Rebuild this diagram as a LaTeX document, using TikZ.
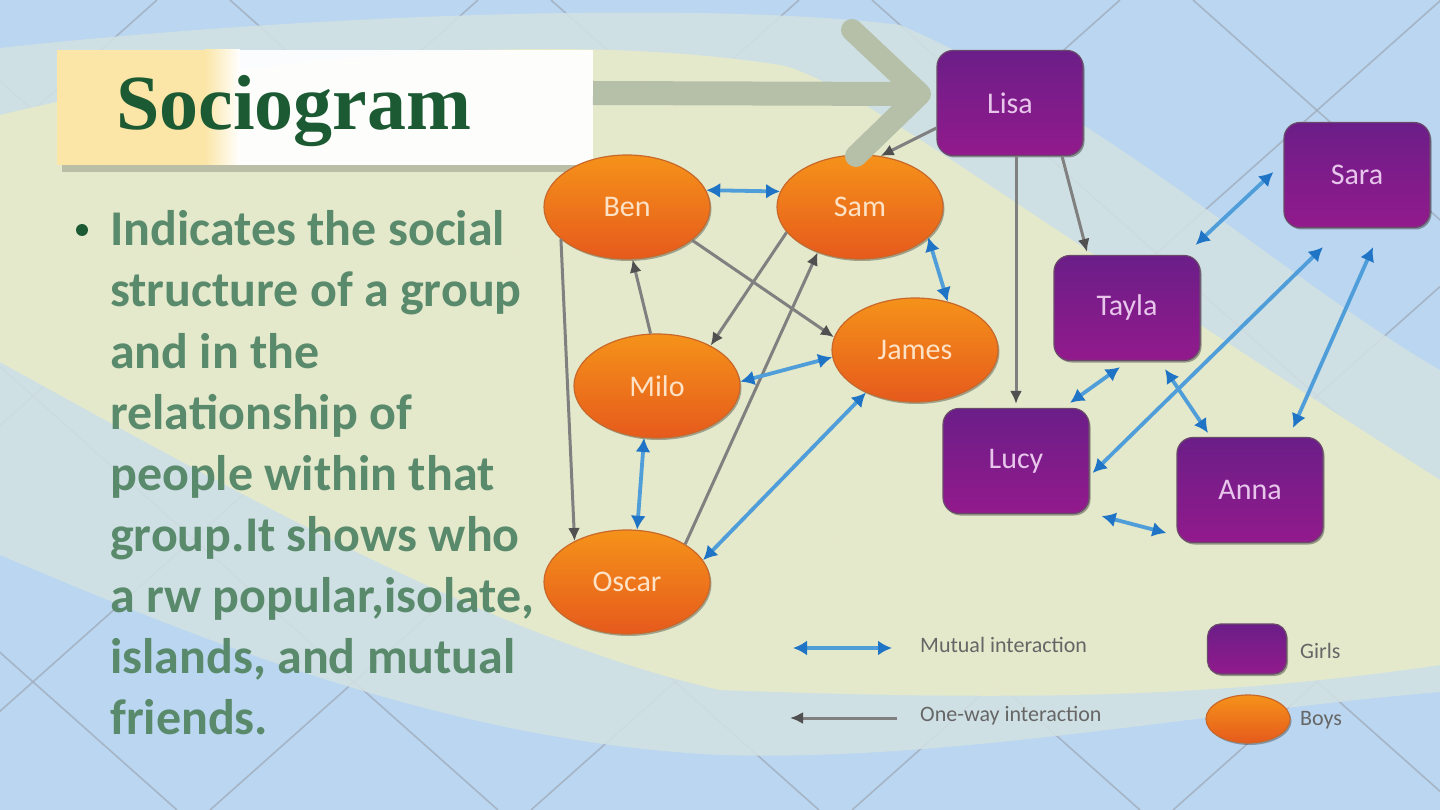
\documentclass[tikz,border=0pt]{standalone}
\usepackage{fontspec}
\setmainfont{Carlito}
\newfontfamily\titlefont{Liberation Serif}
\usetikzlibrary{arrows.meta,shapes.geometric,shadows}
\definecolor{bgblue}{HTML}{BBD6F0}
\definecolor{bandteal}{HTML}{D3E2E3}
\definecolor{bandbeige}{HTML}{E9EBC8}
\definecolor{latt}{HTML}{9FAAB8}
\definecolor{ttlyel}{HTML}{FBE6A8}
\definecolor{ttlgreen}{HTML}{1C5A34}
\definecolor{bodygreen}{HTML}{5A8A6C}
\definecolor{orTop}{HTML}{F5921A}
\definecolor{orBot}{HTML}{E65A1C}
\definecolor{orEdge}{HTML}{C8682A}
\definecolor{puTop}{HTML}{6B1E88}
\definecolor{puBot}{HTML}{921A8C}
\definecolor{puEdge}{HTML}{6A4A6A}
\definecolor{boyText}{HTML}{FDE2C6}
\definecolor{girlText}{HTML}{E8C6EC}
\definecolor{mshaft}{HTML}{4F9EDA}
\definecolor{mtip}{HTML}{1F74C6}
\definecolor{gshaft}{HTML}{808080}
\definecolor{gtip}{HTML}{505050}
\definecolor{sage}{HTML}{B6C0A9}
\definecolor{legtext}{HTML}{666666}
\begin{document}
\begin{tikzpicture}[x=1pt,y=-1pt,
  lattline/.style={draw=latt, line width=1.6pt, opacity=0.75},
  boy/.style={ellipse, minimum width=166pt, minimum height=104pt, inner sep=0pt,
    top color=orTop, bottom color=orBot, draw=orEdge, line width=1.2pt,
    text=boyText, font=\fontsize{30}{30}\selectfont,
    drop shadow={shadow xshift=1.5pt, shadow yshift=-2pt, opacity=0.3, fill=black}},
  girl/.style={rectangle, rounded corners=16pt, minimum width=146pt, minimum height=105pt, inner sep=0pt,
    top color=puTop, bottom color=puBot, draw=puEdge, line width=1.2pt,
    text=girlText, font=\fontsize{30}{30}\selectfont,
    drop shadow={shadow xshift=1.5pt, shadow yshift=-2pt, opacity=0.35, fill=black}},
  mutual/.style={draw=mshaft, line width=3.8pt,
    {Latex[length=14pt,width=15pt,color=mtip]}-{Latex[length=14pt,width=15pt,color=mtip]}},
  oneway/.style={draw=gshaft, line width=3pt, -{Latex[length=13pt,width=12pt,color=gtip]}},
  bodyline/.style={anchor=base west, text=bodygreen, font=\bfseries\fontsize{50}{50}\selectfont, inner sep=0pt},
  legtxt/.style={anchor=west, text=legtext, font=\fontsize{22}{22}\selectfont, inner sep=0pt}
]
\useasboundingbox (0,0) rectangle (1440,810);
\clip (0,0) rectangle (1440,810);
% background
\fill[bgblue] (0,0) rectangle (1440,810);
\foreach \c in {1193,872,551,230,-91,-412,-733} \draw[lattline] (\c,0) -- ({\c+910},810);
\foreach \c in {157,478,799,1120,1441,1762,2083} \draw[lattline] (\c,0) -- ({\c-910},810);
\fill[bandteal, opacity=0.85] (0,48) .. controls (300,15) and (700,0) .. (900,25)
  .. controls (1100,110) and (1300,290) .. (1440,370) -- (1440,692)
  .. controls (1200,712) and (950,762) .. (720,755)
  .. controls (450,742) and (200,640) .. (0,555) -- cycle;
\fill[bandbeige, opacity=0.88] (0,115) .. controls (250,55) and (550,30) .. (780,65)
  .. controls (850,80) and (1000,200) .. (1440,480) -- (1440,665)
  .. controls (1200,700) and (1000,700) .. (720,690)
  .. controls (500,640) and (250,500) .. (0,362) -- cycle;

% title box
\fill[black, opacity=0.18] (62,165) rectangle (598,172);
\fill[white, opacity=0.93] (57,50) rectangle (593,165);
\fill[ttlyel] (57,50) rectangle (205,165);
\shade[left color=ttlyel, right color=white] (205,50) rectangle (240,165);
\node[anchor=base west, inner sep=0pt, text=ttlgreen, font=\titlefont\bfseries\fontsize{78}{78}\selectfont] (title) at (116,130) {Sociogram};

% bullet text
\fill[ttlgreen] (82,230) circle (6pt);
\node[bodyline] (l1) at (110,246) {Indicates the social};
\node[bodyline] (l2) at (110,307) {structure of a group};
\node[bodyline] (l3) at (110,368) {and in the};
\node[bodyline] (l4) at (110,429) {relationship of};
\node[bodyline] (l5) at (110,490) {people within that};
\node[bodyline] (l6) at (110,551) {group.It shows who};
\node[bodyline] (l7) at (110,612) {a rw popular,isolate,};
\node[bodyline] (l8) at (110,673) {islands, and mutual};
\node[bodyline] (l9) at (110,734) {friends.};

% nodes
\node[boy] (ben) at (627,207) {Ben};
\node[boy] (sam) at (860,207) {Sam};
\node[boy] (james) at (915,350) {James};
\node[boy] (milo) at (657,386) {Milo};
\node[boy] (oscar) at (627,582) {Oscar};
\node[girl] (lisa) at (1010,103) {Lisa};
\node[girl] (sara) at (1357,175) {Sara};
\node[girl] (tayla) at (1127,308) {Tayla};
\node[girl] (lucy) at (1016,461) {Lucy};
\node[girl] (anna) at (1250,490) {Anna};

% one-way
\draw[oneway] (ben.-154) -- (oscar.142);
\draw[oneway] (milo.97) -- (ben.-84);
\draw[oneway] (sam.-161) -- (milo.37);
\draw[oneway] (ben.-27) -- (james.171);
\draw[oneway] (oscar.33) -- (sam.-133);
\draw[oneway] ([xshift=6pt]lisa.south) -- ([yshift=4pt]lucy.north);
\draw[oneway] ([xshift=52pt]lisa.south) -- ([xshift=-40pt,yshift=3pt]tayla.north);
\draw[oneway] ([yshift=-25pt]lisa.west) -- (sam.68);

% mutual
\draw[mutual] (ben.12) -- (sam.169);
\draw[mutual] (sam.-24) -- (james.56);
\draw[mutual] (milo.3) -- (james.-175);
\draw[mutual] (milo.-104) -- (oscar.79);
\draw[mutual] (oscar.16) -- (james.-139);
\draw[mutual] ([xshift=54pt,yshift=5pt]lucy.north) -- ([xshift=-7pt,yshift=-6pt]tayla.south);
\draw[mutual] ([xshift=38pt,yshift=-8pt]tayla.south) -- ([xshift=-42pt,yshift=4pt]anna.north);
\draw[mutual] ([xshift=3pt,yshift=-12pt]lucy.east) -- ([xshift=-34pt,yshift=-19pt]sara.south);
\draw[mutual] ([xshift=16pt,yshift=-19pt]sara.south) -- ([xshift=43pt,yshift=9pt]anna.north);
\draw[mutual] ([xshift=-10pt,yshift=3pt]sara.west) -- ([xshift=-5pt,yshift=10pt]tayla.north east);
\draw[mutual] ([xshift=12pt,yshift=-2pt]lucy.south east) -- ([xshift=-10pt,yshift=-43pt]anna.west);

% big sage arrow from title to Lisa
\coordinate (bigS) at (593,93);
\coordinate (bigT) at (920,94);
\coordinate (armA) at (852,30);
\coordinate (armB) at (856,156);
\draw[sage, line width=24pt] (bigS) -- ([xshift=-10pt]bigT);
\draw[sage, line width=22pt, line cap=round, line join=round] (armA) -- (bigT) -- (armB);

% legend
\coordinate (m1) at (793,648);
\coordinate (m2) at (892,648);
\draw[mutual] (m1) -- (m2);
\node[legtxt] (mtext) at (920,645) {Mutual interaction};
\coordinate (o1) at (897,718);
\coordinate (o2) at (790,718);
\draw[oneway] (o1) -- (o2);
\node[legtxt] (otext) at (920,716) {One-way interaction};
\node[girl, minimum width=79pt, minimum height=50pt, rounded corners=13pt] (lgirl) at (1247,649) {};
\node[legtxt] (gtext) at (1300,651) {Girls};
\node[boy, minimum width=84pt, minimum height=48pt] (lboy) at (1248,719) {};
\node[legtxt] (btext) at (1300,720) {Boys};
\end{tikzpicture}
\end{document}
